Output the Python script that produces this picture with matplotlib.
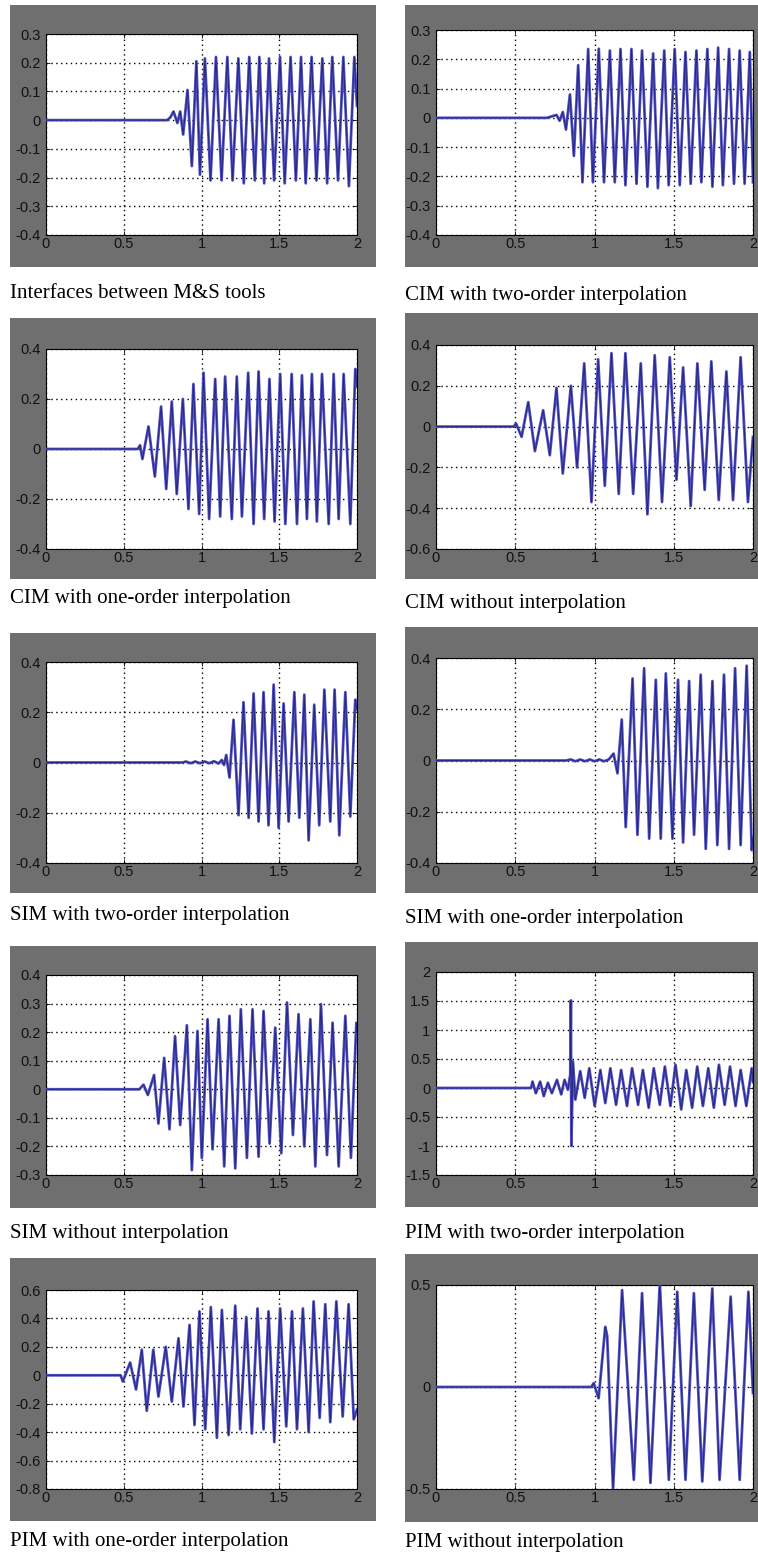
import matplotlib
matplotlib.use('Agg')
import matplotlib.pyplot as plt
from matplotlib.patches import Rectangle

# ---- data (extremum points of each trace) ----
p1_t = [0, 0.78, 0.80, 0.82, 0.845, 0.863, 0.882, 0.91, 0.938, 0.967,
        0.99, 1.022, 1.058, 1.093, 1.129, 1.166, 1.20, 1.237, 1.272, 1.307,
        1.343, 1.372, 1.403, 1.434, 1.467, 1.505, 1.535, 1.573, 1.607, 1.64,
        1.67, 1.708, 1.739, 1.777, 1.808, 1.841, 1.878, 1.912, 1.948, 1.983, 2.0]
p1_y = [0, 0, 0.01, 0.03, -0.01, 0.03, -0.05, 0.105, -0.16, 0.205,
        -0.19, 0.215, -0.21, 0.22, -0.21, 0.22, -0.21, 0.215, -0.22, 0.22,
        -0.21, 0.22, -0.22, 0.215, -0.21, 0.22, -0.22, 0.22, -0.21, 0.22,
        -0.22, 0.22, -0.21, 0.215, -0.22, 0.22, -0.21, 0.22, -0.23, 0.22, 0.05]

p2_t = [0, 0.70, 0.76, 0.78, 0.80, 0.82, 0.845, 0.87, 0.897, 0.924,
        0.96, 0.99, 1.027, 1.06, 1.097, 1.128, 1.164, 1.195, 1.233, 1.265,
        1.30, 1.334, 1.37, 1.40, 1.44, 1.468, 1.506, 1.538, 1.574, 1.607,
        1.643, 1.674, 1.712, 1.744, 1.78, 1.81, 1.849, 1.88, 1.916, 1.947,
        1.98, 2.0]
p2_y = [0, 0, 0.01, -0.01, 0.02, -0.04, 0.08, -0.13, 0.18, -0.22,
        0.235, -0.22, 0.236, -0.22, 0.23, -0.22, 0.235, -0.23, 0.235, -0.225,
        0.23, -0.235, 0.22, -0.24, 0.23, -0.23, 0.235, -0.23, 0.225, -0.225,
        0.23, -0.22, 0.235, -0.235, 0.24, -0.23, 0.235, -0.225, 0.23, -0.225,
        0.225, -0.22]

p3_t = [0, 0.59, 0.605, 0.62, 0.659, 0.70, 0.74, 0.773, 0.809, 0.841,
        0.88, 0.916, 0.948, 0.985, 1.013, 1.049, 1.088, 1.12, 1.152, 1.195,
        1.227, 1.26, 1.30, 1.335, 1.367, 1.403, 1.437, 1.47, 1.506, 1.539,
        1.58, 1.614, 1.646, 1.678, 1.71, 1.742, 1.775, 1.818, 1.85, 1.882,
        1.914, 1.957, 1.989, 2.0]
p3_y = [0, 0, 0.015, -0.04, 0.09, -0.11, 0.17, -0.16, 0.19, -0.18,
        0.2, -0.24, 0.26, -0.26, 0.305, -0.28, 0.28, -0.27, 0.29, -0.28,
        0.29, -0.27, 0.305, -0.30, 0.31, -0.28, 0.28, -0.29, 0.30, -0.30,
        0.30, -0.30, 0.295, -0.28, 0.30, -0.29, 0.30, -0.30, 0.30, -0.28,
        0.30, -0.30, 0.32, 0.25]

p4_t = [0, 0.49, 0.505, 0.54, 0.582, 0.624, 0.676, 0.718, 0.76, 0.80,
        0.851, 0.89, 0.935, 0.981, 1.023, 1.065, 1.107, 1.153, 1.195, 1.244,
        1.292, 1.334, 1.38, 1.426, 1.475, 1.517, 1.559, 1.607, 1.649, 1.695,
        1.737, 1.784, 1.832, 1.874, 1.922, 1.968, 2.0]
p4_y = [0, 0, 0.015, -0.05, 0.12, -0.12, 0.08, -0.14, 0.19, -0.23,
        0.20, -0.20, 0.31, -0.37, 0.33, -0.29, 0.36, -0.33, 0.36, -0.33,
        0.31, -0.43, 0.35, -0.37, 0.34, -0.26, 0.29, -0.39, 0.31, -0.31,
        0.32, -0.36, 0.27, -0.36, 0.34, -0.37, -0.05]

p5_t = [0, 0.88, 0.90, 0.93, 0.96, 0.99, 1.02, 1.05, 1.08, 1.11,
        1.13, 1.145, 1.159, 1.18, 1.206, 1.238, 1.27, 1.303, 1.335, 1.367,
        1.399, 1.431, 1.464, 1.496, 1.528, 1.56, 1.597, 1.629, 1.661, 1.689,
        1.725, 1.757, 1.79, 1.828, 1.856, 1.886, 1.925, 1.957, 1.989, 2.0]
p5_y = [0, 0, 0.004, -0.003, 0.004, -0.003, 0.004, -0.003, 0.005, -0.004,
        0.01, -0.01, 0.03, -0.06, 0.17, -0.21, 0.24, -0.22, 0.275, -0.235,
        0.28, -0.25, 0.31, -0.26, 0.235, -0.235, 0.28, -0.22, 0.27, -0.31,
        0.23, -0.25, 0.29, -0.235, 0.29, -0.29, 0.28, -0.215, 0.25, 0.21]

p6_t = [0, 0.82, 0.85, 0.88, 0.91, 0.94, 0.97, 1.00, 1.03, 1.06,
        1.09, 1.12, 1.145, 1.172, 1.197, 1.24, 1.271, 1.313, 1.345, 1.387,
        1.418, 1.45, 1.492, 1.527, 1.559, 1.597, 1.628, 1.67, 1.702, 1.744,
        1.775, 1.817, 1.849, 1.887, 1.922, 1.96, 1.992, 2.0]
p6_y = [0, 0, 0.004, -0.003, 0.004, -0.003, 0.004, -0.003, 0.004, -0.003,
        0.004, 0.027, -0.05, 0.16, -0.26, 0.32, -0.29, 0.36, -0.305, 0.315,
        -0.305, 0.34, -0.305, 0.315, -0.32, 0.31, -0.29, 0.335, -0.345, 0.31,
        -0.33, 0.335, -0.345, 0.36, -0.33, 0.37, -0.35, -0.3]

p7_t = [0, 0.60, 0.627, 0.655, 0.695, 0.723, 0.76, 0.794, 0.83, 0.863,
        0.906, 0.938, 0.974, 1.002, 1.039, 1.071, 1.11, 1.146, 1.18, 1.217,
        1.253, 1.292, 1.328, 1.367, 1.399, 1.438, 1.474, 1.513, 1.55, 1.588,
        1.624, 1.661, 1.70, 1.732, 1.768, 1.807, 1.843, 1.882, 1.925, 1.961,
        1.996, 2.0]
p7_y = [0, 0, 0.016, -0.02, 0.05, -0.12, 0.11, -0.14, 0.186, -0.125,
        0.224, -0.283, 0.204, -0.24, 0.245, -0.21, 0.245, -0.27, 0.257, -0.277,
        0.28, -0.24, 0.28, -0.236, 0.274, -0.19, 0.216, -0.224, 0.304, -0.16,
        0.263, -0.20, 0.245, -0.27, 0.298, -0.23, 0.233, -0.27, 0.257, -0.24,
        0.233, 0.2]

p8_t = [0, 0.60, 0.609, 0.63, 0.657, 0.68, 0.706, 0.731, 0.763, 0.79,
        0.811, 0.832, 0.847, 0.851, 0.854, 0.864, 0.879, 0.91, 0.938, 0.967,
        1.001, 1.037, 1.068, 1.10, 1.136, 1.168, 1.205, 1.237, 1.275, 1.305,
        1.342, 1.374, 1.412, 1.444, 1.479, 1.511, 1.547, 1.579, 1.616, 1.648,
        1.684, 1.718, 1.753, 1.785, 1.821, 1.855, 1.89, 1.922, 1.958, 1.992,
        2.0]
p8_y = [0, 0, 0.11, -0.09, 0.11, -0.14, 0.09, -0.09, 0.14, -0.11,
        0.14, -0.03, 0.23, 1.51, -1.0, 0.46, -0.2, 0.29, -0.17, 0.34,
        -0.31, 0.31, -0.26, 0.34, -0.29, 0.31, -0.31, 0.34, -0.29, 0.31,
        -0.34, 0.34, -0.29, 0.37, -0.31, 0.40, -0.37, 0.31, -0.34, 0.37,
        -0.31, 0.34, -0.34, 0.40, -0.29, 0.37, -0.31, 0.31, -0.31, 0.34,
        0.1]

p9_t = [0, 0.48, 0.494, 0.541, 0.579, 0.616, 0.648, 0.69, 0.723, 0.77,
        0.809, 0.852, 0.884, 0.923, 0.955, 0.987, 1.024, 1.06, 1.099, 1.131,
        1.174, 1.217, 1.249, 1.288, 1.324, 1.36, 1.399, 1.431, 1.468, 1.506,
        1.545, 1.582, 1.614, 1.652, 1.689, 1.721, 1.76, 1.796, 1.828, 1.867,
        1.908, 1.946, 1.979, 2.0]
p9_y = [0, 0, -0.044, 0.09, -0.10, 0.18, -0.25, 0.18, -0.15, 0.20,
        -0.185, 0.26, -0.22, 0.354, -0.35, 0.45, -0.38, 0.48, -0.44, 0.46,
        -0.42, 0.49, -0.38, 0.41, -0.41, 0.47, -0.38, 0.45, -0.47, 0.47,
        -0.36, 0.45, -0.38, 0.47, -0.40, 0.52, -0.30, 0.50, -0.33, 0.52,
        -0.29, 0.50, -0.31, -0.24]

p10_t = [0, 0.98, 0.995, 1.026, 1.068, 1.08, 1.117, 1.174, 1.248, 1.30,
         1.353, 1.412, 1.469, 1.522, 1.574, 1.627, 1.68, 1.743, 1.789, 1.859,
         1.916, 1.971, 2.0]
p10_y = [0, 0, 0.019, -0.055, 0.295, 0.25, -0.50, 0.475, -0.455, 0.46,
         -0.47, 0.51, -0.455, 0.467, -0.455, 0.46, -0.463, 0.483, -0.455, 0.443,
         -0.455, 0.467, -0.03]

captions = [
    "Interfaces between M&S tools", "CIM with two-order interpolation",
    "CIM with one-order interpolation", "CIM without interpolation",
    "SIM with two-order interpolation", "SIM with one-order interpolation",
    "SIM without interpolation", "PIM with two-order interpolation",
    "PIM with one-order interpolation", "PIM without interpolation",
]
yticks = [
    [-0.4, -0.3, -0.2, -0.1, 0, 0.1, 0.2, 0.3],
    [-0.4, -0.3, -0.2, -0.1, 0, 0.1, 0.2, 0.3],
    [-0.4, -0.2, 0, 0.2, 0.4],
    [-0.6, -0.4, -0.2, 0, 0.2, 0.4],
    [-0.4, -0.2, 0, 0.2, 0.4],
    [-0.4, -0.2, 0, 0.2, 0.4],
    [-0.3, -0.2, -0.1, 0, 0.1, 0.2, 0.3, 0.4],
    [-1.5, -1, -0.5, 0, 0.5, 1, 1.5, 2],
    [-0.8, -0.6, -0.4, -0.2, 0, 0.2, 0.4, 0.6],
    [-0.5, 0, 0.5],
]
xticks = [0, 0.5, 1, 1.5, 2]

series = [(p1_t, p1_y), (p2_t, p2_y), (p3_t, p3_y), (p4_t, p4_y), (p5_t, p5_y),
          (p6_t, p6_y), (p7_t, p7_y), (p8_t, p8_y), (p9_t, p9_y), (p10_t, p10_y)]

# ---- layout in pixels (top-left origin) ----
W, H = 758, 1558
ax_x = [(46, 357), (436, 753)]
ax_y = [[(34, 235), (349, 549), (662, 863), (975, 1175), (1290, 1489)],
        [(30, 235), (345, 549), (658, 863), (972, 1175), (1285, 1489)]]
gray_x = [(10, 376), (405, 760)]
gray_y = [[(5, 267), (318, 579), (633, 893), (946, 1208), (1258, 1521)],
          [(5, 267), (313, 579), (627, 893), (942, 1207), (1254, 1522)]]
cap_x = [10, 405]
cap_base = [[298, 603, 920, 1238, 1546], [300, 608, 923, 1238, 1547]]

GRAY = '#6f6f6f'
LINE = '#5252c0'
DARK = '#14146e'


def fig_rect(x0, x1, y0, y1):
    return [x0 / W, 1 - y1 / H, (x1 - x0) / W, (y1 - y0) / H]


def fmt(v):
    return f"{v:g}"


fig = plt.figure(figsize=(W / 100, H / 100), dpi=100)
fig.patch.set_facecolor('white')

for i, (t, y) in enumerate(series):
    row, col = divmod(i, 2)

    gx0, gx1 = gray_x[col]
    gy0, gy1 = gray_y[col][row]
    fig.add_artist(Rectangle((gx0 / W, 1 - gy1 / H), (gx1 - gx0) / W, (gy1 - gy0) / H,
                             transform=fig.transFigure, facecolor=GRAY,
                             edgecolor='none', zorder=0))

    x0, x1 = ax_x[col]
    y0, y1 = ax_y[col][row]
    ax = fig.add_axes(fig_rect(x0, x1, y0, y1))
    ax.set_facecolor('white')
    ax.plot(t, y, color=LINE, lw=2.0, zorder=3)
    ax.plot(t, y, color=DARK, lw=0.7, alpha=0.7, zorder=3)

    yt = yticks[i]
    ax.set_xlim(0, 2)
    ax.set_ylim(yt[0], yt[-1])
    ax.set_xticks(xticks)
    ax.set_xticklabels([fmt(v) for v in xticks])
    ax.set_yticks(yt)
    ax.set_yticklabels([fmt(v) for v in yt])
    ax.grid(True, color='black', linestyle=(0, (1, 2.5)), linewidth=1.0)
    ax.tick_params(direction='in', length=3, width=0.6, top=True, right=True,
                   labelsize=10.5, colors='black', pad=1.5)
    ax.tick_params(axis='y', pad=4)
    for lab in ax.get_xticklabels() + ax.get_yticklabels():
        lab.set_fontfamily('Liberation Sans')
        lab.set_color('#111111')
    for sp in ax.spines.values():
        sp.set_linewidth(0.8)
        sp.set_color('black')

    fig.text(cap_x[col] / W, 1 - cap_base[col][row] / H, captions[i],
             fontsize=15, family='Liberation Serif', ha='left', va='baseline',
             color='black')

fig.savefig('out.png', dpi=100, facecolor='white')
